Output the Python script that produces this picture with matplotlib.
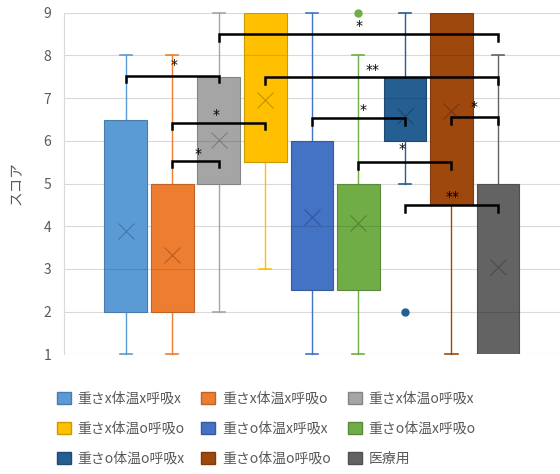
import numpy as np
import matplotlib
matplotlib.use('Agg')
import matplotlib.pyplot as plt
import matplotlib.colors as mcolors
from matplotlib.patches import Patch

plt.rcParams['font.family'] = ['Noto Sans CJK JP', 'DejaVu Sans']

labels = ['重さx体温x呼吸x', '重さx体温x呼吸o', '重さx体温o呼吸x',
          '重さx体温o呼吸o', '重さo体温x呼吸x', '重さo体温x呼吸o',
          '重さo体温o呼吸x', '重さo体温o呼吸o', '医療用']
colors = ['#5B9BD5', '#ED7D31', '#A5A5A5', '#FFC000', '#4472C4',
          '#70AD47', '#255E91', '#9E480E', '#636363']

whis_lo = [1, 1, 2, 3, 1, 1, 5, 1, 1]
q1 = [2, 2, 5, 5.5, 2.5, 2.5, 6, 4.5, 1]
medians = [3, 3, 6, 8, 4, 4, 7, 8, 2]
q3 = [6.5, 5, 7.5, 9, 6, 5, 7.5, 9, 5]
whis_hi = [8, 8, 9, 9, 9, 8, 9, 9, 8]
means = [3.89, 3.33, 6.03, 6.96, 4.22, 4.08, 6.58, 6.70, 3.04]
fliers = [[], [], [], [], [], [9], [2], [], []]

# significance brackets: (from box, to box, height, label, label x, label y)
brackets = [
    (0, 2, 7.52, '*', 1.03, 7.78),
    (1, 3, 6.43, '*', 1.94, 6.60),
    (1, 2, 5.54, '*', 1.55, 5.69),
    (2, 8, 8.50, '*', 5.01, 8.69),
    (3, 8, 7.49, '**', 5.31, 7.66),
    (4, 6, 6.53, '*', 5.10, 6.72),
    (5, 7, 5.50, '*', 5.94, 5.81),
    (6, 8, 4.49, '**', 7.03, 4.69),
    (7, 8, 6.55, '*', 7.48, 6.79),
]


def darker(c, f=0.8):
    r, g, b = mcolors.to_rgb(c)
    return (r * f, g * f, b * f)


fig = plt.figure(figsize=(5.6, 4.74), dpi=100)
ax = fig.add_axes([0.114, 0.2525, 0.886, 0.7205])

stats = []
for i in range(len(labels)):
    stats.append(dict(whislo=whis_lo[i], q1=q1[i], med=medians[i], q3=q3[i],
                      whishi=whis_hi[i], mean=means[i], fliers=fliers[i]))

pos = np.arange(len(labels))
bp = ax.bxp(stats, positions=pos, widths=0.92, capwidths=0.26,
            patch_artist=True, showmeans=True, showfliers=True)

for i, c in enumerate(colors):
    dk = darker(c)
    bp['boxes'][i].set(facecolor=c, edgecolor=dk, linewidth=0.8, zorder=3)
    bp['medians'][i].set(color=dk, linewidth=0.8, alpha=0.6, zorder=4)
    for w in bp['whiskers'][2 * i:2 * i + 2]:
        w.set(color=c, linewidth=1.0, zorder=2, clip_on=False)
    lo_cap, hi_cap = bp['caps'][2 * i:2 * i + 2]
    for cp in (lo_cap, hi_cap):
        cp.set(color=c, linewidth=1.2, zorder=2, clip_on=False)
    # Excel hides the cap when the whisker has zero length
    lo_cap.set_visible(whis_lo[i] < q1[i])
    hi_cap.set_visible(whis_hi[i] > q3[i])
    bp['means'][i].set(marker='x', markersize=12, markeredgewidth=0.8,
                       markeredgecolor=darker(c, 0.6), alpha=0.6, zorder=5)
    bp['fliers'][i].set(marker='o', markersize=5, markerfacecolor=c,
                        markeredgecolor=c, zorder=5, clip_on=False)

for a, b, y, lab, lx, ly in brackets:
    ax.plot([a, a, b, b], [y - 0.15, y, y, y - 0.15], color='black',
            linewidth=1.8, solid_joinstyle='miter', zorder=6)
    ax.text(lx, ly, lab, ha='center', va='center', fontsize=10,
            color='black', family='DejaVu Sans', zorder=7)

ax.set_xlim(-1.333, 9.333)
ax.set_ylim(1, 9)
ax.set_yticks(range(1, 10))
ax.set_xticks([])
ax.tick_params(axis='y', length=0, labelsize=10, labelcolor='#595959', pad=9)
ax.grid(axis='y', color='#D9D9D9', linewidth=0.8, zorder=0)
ax.set_axisbelow(True)
for s in ['top', 'right', 'bottom']:
    ax.spines[s].set_visible(False)
ax.spines['left'].set_color('#D9D9D9')
ax.set_ylabel('スコア', fontsize=10.5, color='#595959', labelpad=14)

handles = [Patch(facecolor=c, edgecolor=darker(c)) for c in colors]
order = [0, 3, 6, 1, 4, 7, 2, 5, 8]
fig.legend([handles[k] for k in order], [labels[k] for k in order], ncol=3,
           loc='upper left', bbox_to_anchor=(0.079, 0.2), frameon=False,
           fontsize=10, labelcolor='#595959', handlelength=1.0,
           handleheight=1.0, handletextpad=0.5, columnspacing=1.2,
           labelspacing=1.15)

fig.savefig('out.png', dpi=100)
